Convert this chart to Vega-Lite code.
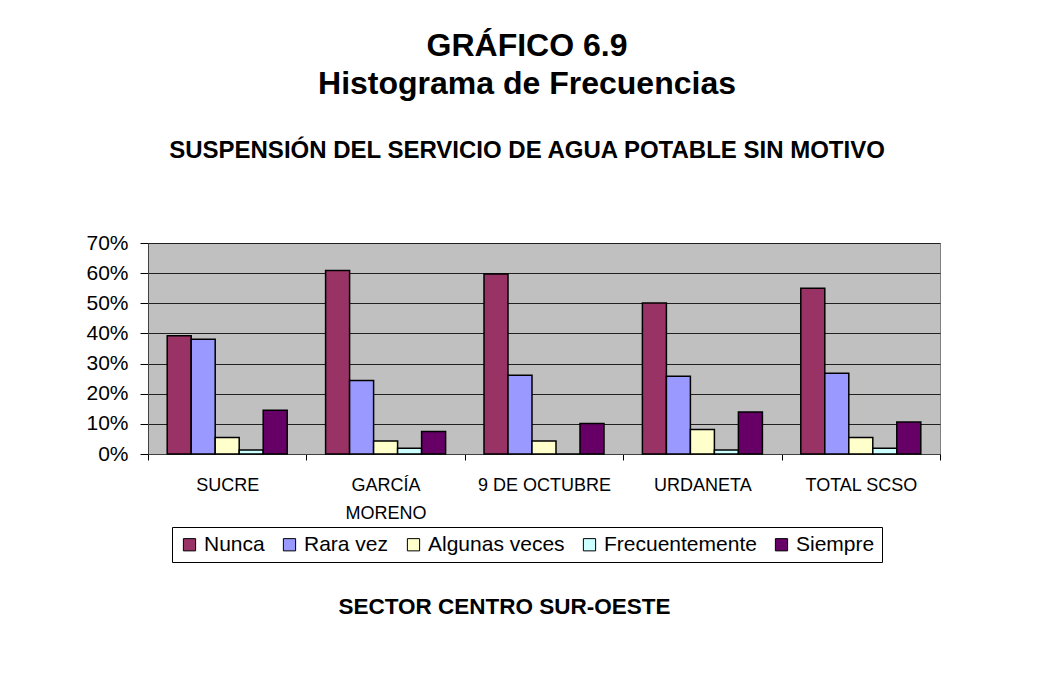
{
  "$schema": "https://vega.github.io/schema/vega-lite/v6.json",
  "autosize": {"type": "none"},
  "padding": {"left": 148, "top": 243, "right": 97, "bottom": 227},
  "width": 792,
  "height": 211,
  "background": "white",
  "title": {
    "text": ["GRÁFICO 6.9", "Histograma de Frecuencias"],
    "subtitle": "SUSPENSIÓN DEL SERVICIO DE AGUA POTABLE SIN MOTIVO",
    "font": "Liberation Sans",
    "fontSize": 32,
    "fontWeight": "bold",
    "lineHeight": 38,
    "color": "black",
    "subtitleFont": "Liberation Sans",
    "subtitleFontSize": 24,
    "subtitleFontWeight": "bold",
    "subtitleColor": "black",
    "subtitlePadding": 38,
    "anchor": "middle",
    "frame": "group",
    "dx": -17,
    "offset": 68
  },
  "data": {
    "values": [
      {"sector": "SUCRE", "resp": "Nunca", "pct": 0.392},
      {"sector": "SUCRE", "resp": "Rara vez", "pct": 0.381},
      {"sector": "SUCRE", "resp": "Algunas veces", "pct": 0.055},
      {"sector": "SUCRE", "resp": "Frecuentemente", "pct": 0.013},
      {"sector": "SUCRE", "resp": "Siempre", "pct": 0.145},
      {"sector": "GARCÍA MORENO", "resp": "Nunca", "pct": 0.609},
      {"sector": "GARCÍA MORENO", "resp": "Rara vez", "pct": 0.244},
      {"sector": "GARCÍA MORENO", "resp": "Algunas veces", "pct": 0.043},
      {"sector": "GARCÍA MORENO", "resp": "Frecuentemente", "pct": 0.019},
      {"sector": "GARCÍA MORENO", "resp": "Siempre", "pct": 0.075},
      {"sector": "9 DE OCTUBRE", "resp": "Nunca", "pct": 0.597},
      {"sector": "9 DE OCTUBRE", "resp": "Rara vez", "pct": 0.261},
      {"sector": "9 DE OCTUBRE", "resp": "Algunas veces", "pct": 0.043},
      {"sector": "9 DE OCTUBRE", "resp": "Frecuentemente", "pct": 0.0},
      {"sector": "9 DE OCTUBRE", "resp": "Siempre", "pct": 0.101},
      {"sector": "URDANETA", "resp": "Nunca", "pct": 0.501},
      {"sector": "URDANETA", "resp": "Rara vez", "pct": 0.258},
      {"sector": "URDANETA", "resp": "Algunas veces", "pct": 0.081},
      {"sector": "URDANETA", "resp": "Frecuentemente", "pct": 0.013},
      {"sector": "URDANETA", "resp": "Siempre", "pct": 0.139},
      {"sector": "TOTAL SCSO", "resp": "Nunca", "pct": 0.550},
      {"sector": "TOTAL SCSO", "resp": "Rara vez", "pct": 0.268},
      {"sector": "TOTAL SCSO", "resp": "Algunas veces", "pct": 0.055},
      {"sector": "TOTAL SCSO", "resp": "Frecuentemente", "pct": 0.019},
      {"sector": "TOTAL SCSO", "resp": "Siempre", "pct": 0.106}
    ]
  },
  "mark": {"type": "bar", "stroke": "black", "strokeWidth": 1.5},
  "encoding": {
    "x": {
      "field": "sector",
      "type": "nominal",
      "sort": null,
      "scale": {"paddingInner": 0, "paddingOuter": 0},
      "axis": {
        "title": "SECTOR CENTRO SUR-OESTE",
        "titleFont": "Liberation Sans",
        "titleFontSize": 22.5,
        "titleFontWeight": "bold",
        "titleColor": "black",
        "titleX": 356,
        "titleY": 159,
        "titleBaseline": "alphabetic",
        "titleAnchor": "middle",
        "labelAngle": 0,
        "labelFont": "Liberation Sans",
        "labelFontSize": 18,
        "labelColor": "black",
        "labelPadding": 16,
        "labelLineHeight": 28,
        "labelExpr": "datum.value == 'GARCÍA MORENO' ? ['GARCÍA', 'MORENO'] : datum.value",
        "tickBand": "extent",
        "ticks": true,
        "tickSize": 6,
        "tickColor": "black",
        "domainColor": "#404040",
        "grid": false
      }
    },
    "xOffset": {
      "field": "resp",
      "type": "nominal",
      "sort": ["Nunca", "Rara vez", "Algunas veces", "Frecuentemente", "Siempre"],
      "scale": {"paddingInner": 0, "paddingOuter": 0.8}
    },
    "y": {
      "field": "pct",
      "type": "quantitative",
      "scale": {"domain": [0, 0.7]},
      "axis": {
        "title": null,
        "format": ".0%",
        "values": [0, 0.1, 0.2, 0.3, 0.4, 0.5, 0.6, 0.7],
        "labelFont": "Liberation Sans",
        "labelFontSize": 21,
        "labelColor": "black",
        "labelPadding": 12,
        "tickSize": 8,
        "tickColor": "black",
        "domainColor": "#404040",
        "grid": true,
        "gridColor": "#202020",
        "gridWidth": 1
      }
    },
    "fill": {
      "field": "resp",
      "type": "nominal",
      "sort": ["Nunca", "Rara vez", "Algunas veces", "Frecuentemente", "Siempre"],
      "scale": {
        "domain": ["Nunca", "Rara vez", "Algunas veces", "Frecuentemente", "Siempre"],
        "range": ["#993366", "#9999FF", "#FFFFCC", "#CCFFFF", "#660066"]
      },
      "legend": {
        "title": null,
        "orient": "none",
        "legendX": 24,
        "legendY": 284,
        "direction": "horizontal",
        "strokeColor": "black",
        "padding": 7,
        "symbolType": "square",
        "symbolSize": 150,
        "symbolStrokeColor": "black",
        "symbolStrokeWidth": 1,
        "labelFont": "Liberation Sans",
        "labelFontSize": 21,
        "labelLimit": 400,
        "labelColor": "black",
        "labelOffset": 4,
        "columnPadding": 14
      }
    }
  },
  "config": {
    "view": {"fill": "#C0C0C0", "stroke": "#808080", "strokeWidth": 1}
  }
}
